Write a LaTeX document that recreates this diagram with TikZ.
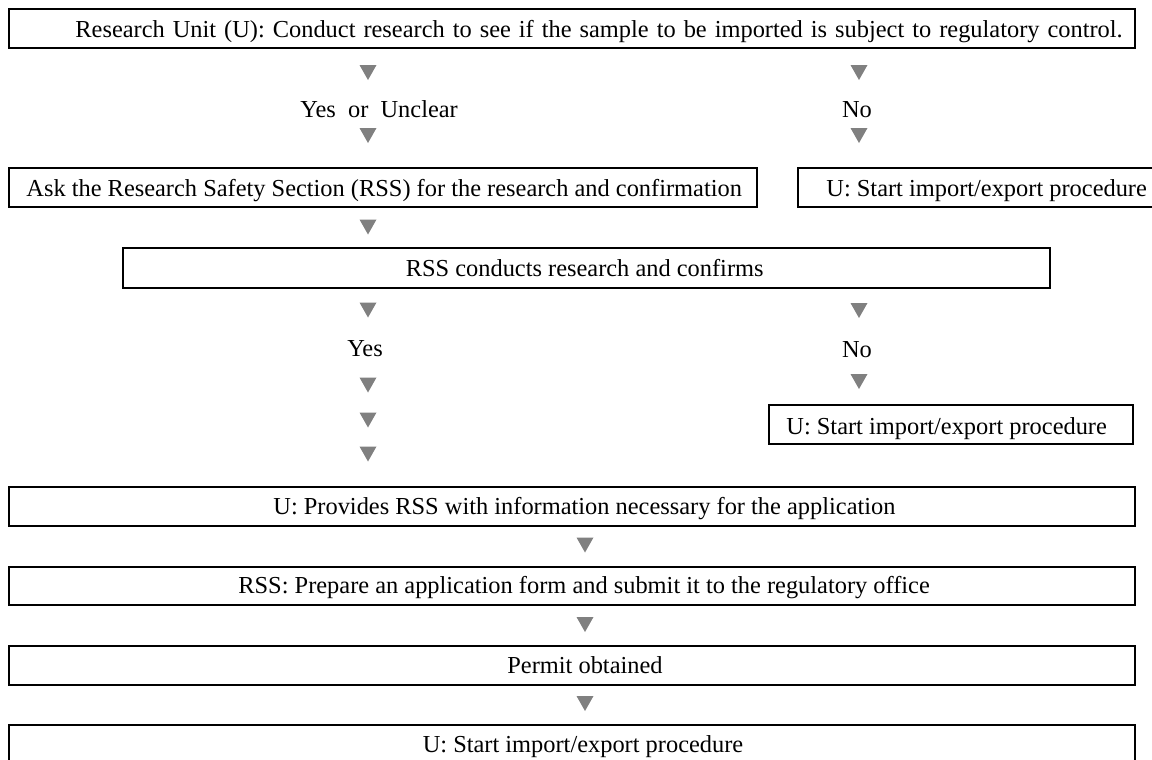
\documentclass[tikz,border=0pt]{standalone}
\usepackage{fontspec}
\setmainfont{Liberation Serif}
\begin{document}
\begin{tikzpicture}[x=0.5pt,y=-0.5pt,
  box/.style={draw=black, line width=0.9pt, inner sep=0, minimum height=19.5pt},
  txt/.style={inner sep=0, font=\fontsize{12.2pt}{14pt}\selectfont},
  dtri/.pic={\fill[gray] (-8.5,-7.5) -- (8.5,-7.5) -- (0,7.5) -- cycle;}]
\path[use as bounding box, clip] (0,0) rectangle (1152,760);
\fill[white] (0,0) rectangle (1152,760);
% boxes
\node[box, minimum width=563pt] (b1) at (572,28.5) {};
\node[box, minimum width=374pt] (b2) at (383,187.5) {};
\node[box, minimum width=201pt] (b3) at (999,187.5) {};
\node[box, minimum width=463.5pt, minimum height=20pt] (b4) at (586.5,268) {};
\node[box, minimum width=182pt] (b5) at (951,424.5) {};
\node[box, minimum width=563pt] (b6) at (572,506.5) {};
\node[box, minimum width=563pt, minimum height=19pt] (b7) at (572,586) {};
\node[box, minimum width=563pt] (b8) at (572,665.5) {};
\node[box, minimum width=563pt] (b9) at (572,744.5) {};
% texts
\node[txt, anchor=base west] (t1) at (75,37.5) {\spaceskip=4pt Research Unit (U): Conduct research to see if the sample to be imported is subject to regulatory control.};
\node[txt, anchor=base west] (t2) at (26,196.5) {Ask the Research Safety Section (RSS) for the research and confirmation};
\node[txt, anchor=base west] (t3) at (826,196.5) {U: Start import/export procedure};
\node[txt, anchor=base east] (t4) at (764,276.5) {RSS conducts research and confirms};
\node[txt, anchor=base west] (t5) at (786,434) {U: Start import/export procedure};
\node[txt, anchor=base west] (t6) at (273,514.5) {U: Provides RSS with information necessary for the application};
\node[txt, anchor=base west] (t7) at (238,593.5) {RSS: Prepare an application form and submit it to the regulatory office};
\node[txt, anchor=base] (t8) at (585,673.5) {Permit obtained};
\node[txt, anchor=base] (t9) at (583,752.5) {U: Start import/export procedure};
% labels
\node[txt, anchor=base west] (l1) at (300,117) {Yes\ \ or\ \ Unclear};
\node[txt, anchor=base] (l2) at (857,117) {No};
\node[txt, anchor=base] (l3) at (365,356.5) {Yes};
\node[txt, anchor=base] (l4) at (857,357) {No};
% triangles
\pic at (368,72.5) {dtri};
\pic at (368,135.5) {dtri};
\pic at (859,72.5) {dtri};
\pic at (859,135.5) {dtri};
\pic at (368,227) {dtri};
\pic at (368,310) {dtri};
\pic at (368,385) {dtri};
\pic at (368,420) {dtri};
\pic at (368,454) {dtri};
\pic at (859,310.5) {dtri};
\pic at (859,381.5) {dtri};
\pic at (585,545) {dtri};
\pic at (585,624.5) {dtri};
\pic at (585,703.5) {dtri};
\end{tikzpicture}
\end{document}
